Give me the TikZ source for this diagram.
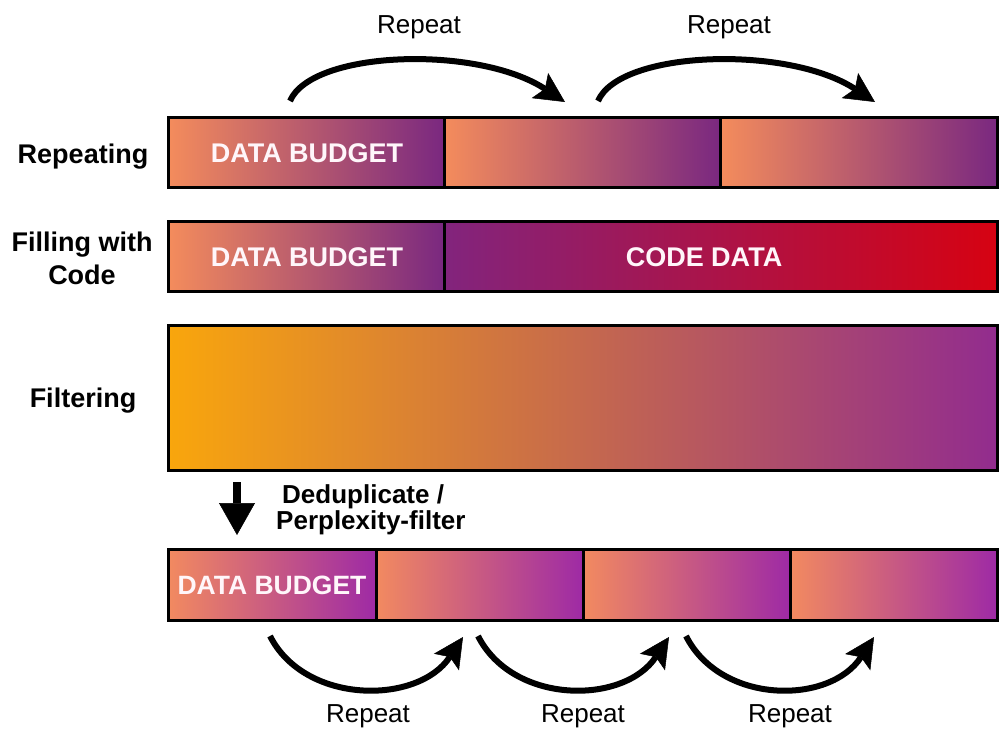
\documentclass[tikz,border=0pt]{standalone}
\usepackage{fontspec}
\setmainfont{Liberation Sans}
\usetikzlibrary{arrows.meta}
\definecolor{salA}{RGB}{244,140,92}
\definecolor{purA}{RGB}{122,40,128}
\definecolor{codeL}{RGB}{130,36,125}
\definecolor{codeR}{RGB}{214,2,18}
\definecolor{orgF}{RGB}{249,166,12}
\definecolor{purF}{RGB}{146,44,142}
\definecolor{salD}{RGB}{242,138,96}
\definecolor{magD}{RGB}{158,42,165}
\definecolor{txtw}{RGB}{255,246,250}
\begin{document}
\begin{tikzpicture}[x=1pt,y=-1pt,
  seg/.style={draw=black, line width=3pt, inner sep=0pt, outer sep=0pt},
  rowA/.style={seg, minimum height=70pt, left color=salA, right color=purA},
  rowD/.style={seg, minimum height=71pt, left color=salD, right color=magD},
  btxt/.style={text=txtw, font=\fontsize{27}{29}\selectfont\bfseries, inner sep=0pt},
  lbl/.style={font=\fontsize{27}{33}\selectfont\bfseries, align=center, inner sep=0pt},
  dtxt/.style={font=\fontsize{26}{27}\selectfont\bfseries, inner sep=0pt, anchor=base west},
  reptxt/.style={font=\fontsize{26}{28}\selectfont, inner sep=0pt, anchor=base},
  rep/.style={line width=6pt, -{Stealth[length=30pt,width=30pt,inset=6pt,line width=0.5pt]}}
]
\useasboundingbox (0,0) rectangle (999,735);

% Row 1: Repeating
\node[rowA, minimum width=276pt] (r1a) at (306,153) {};
\node[rowA, minimum width=276pt] (r1b) at (582,153) {};
\node[rowA, minimum width=277pt] (r1c) at (858.5,153) {};
\node[btxt] (r1t) at (307,153) {DATA BUDGET};
\node[lbl, anchor=base] (l1) at (83,164) {Repeating};

% Row 2: Filling with code
\node[rowA, minimum width=276pt] (r2a) at (306,257) {};
\node[seg, minimum height=70pt, minimum width=553pt, left color=codeL, right color=codeR] (r2b) at (720.5,257) {};
\node[btxt] (r2t) at (307,257) {DATA BUDGET};
\node[btxt] (r2c) at (704,257) {CODE DATA};
\node[lbl] (l2) at (82,258) {Filling with\\Code};

% Row 3: Filtering
\node[seg, minimum height=144pt, minimum width=829pt, left color=orgF, right color=purF] (r3) at (582.5,398) {};
\node[lbl, anchor=base] (l3) at (83,407) {Filtering};

% Down arrow and text
\coordinate (ds) at (237,482);
\coordinate (de) at (237,535);
\draw[line width=8pt, -{Triangle[length=32pt,width=36pt,line width=0.5pt]}] (ds) -- (de);
\node[dtxt] (dd) at (282,503) {Deduplicate /};
\node[dtxt] (pf) at (276,529) {Perplexity-filter};

% Row 4
\node[rowD, minimum width=208pt] (r4a) at (272,584.5) {};
\node[rowD, minimum width=207pt] (r4b) at (479.5,584.5) {};
\node[rowD, minimum width=207pt] (r4c) at (686.5,584.5) {};
\node[rowD, minimum width=207pt] (r4d) at (893.5,584.5) {};
\node[btxt, font=\fontsize{26.5}{28}\selectfont\bfseries] (r4t) at (272,585) {DATA BUDGET};

% Top arrows
\coordinate (t1s) at (290,101); \coordinate (t1e) at (565,102);
\coordinate (t2s) at (598,101); \coordinate (t2e) at (875,102);
\draw[rep] (t1s) .. controls (312,50) and (478,45) .. (t1e);
\draw[rep] (t2s) .. controls (620,50) and (788,45) .. (t2e);
\node[reptxt] (tr1) at (419,34) {Repeat};
\node[reptxt] (tr2) at (729,34) {Repeat};

% Bottom arrows
\coordinate (b1s) at (270,636); \coordinate (b1e) at (463,637);
\coordinate (b2s) at (478,636); \coordinate (b2e) at (669,637);
\coordinate (b3s) at (686,636); \coordinate (b3e) at (874,637);
\draw[rep] (b1s) .. controls (305,705) and (418,705) .. (b1e);
\draw[rep] (b2s) .. controls (513,705) and (624,705) .. (b2e);
\draw[rep] (b3s) .. controls (721,705) and (830,705) .. (b3e);
\node[reptxt] (br1) at (368,722) {Repeat};
\node[reptxt] (br2) at (583,722) {Repeat};
\node[reptxt] (br3) at (790,722) {Repeat};
\end{tikzpicture}
\end{document}
